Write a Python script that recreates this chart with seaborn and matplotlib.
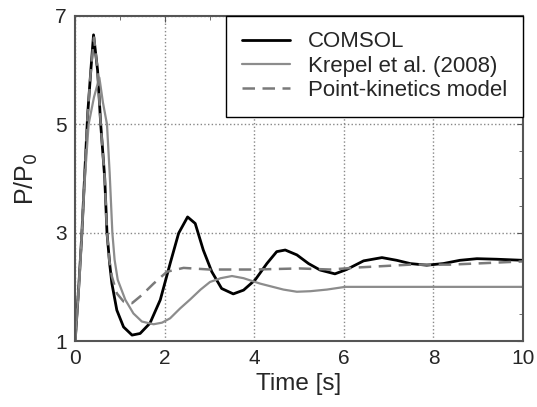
import numpy as np
import pandas as pd
import seaborn as sns
import matplotlib.pyplot as plt
from matplotlib.ticker import MultipleLocator

# values
t_comsol = [0, 0.08, 0.15, 0.22, 0.28, 0.35, 0.41, 0.50, 0.57, 0.66, 0.71, 0.77, 0.82,
            0.93, 1.08, 1.27, 1.45, 1.67, 1.90, 2.12, 2.31, 2.51, 2.68, 2.86, 3.05,
            3.27, 3.53, 3.76, 4.02, 4.28, 4.50, 4.69, 4.95, 5.21, 5.47, 5.80, 6.06,
            6.44, 6.85, 7.18, 7.48, 7.85, 8.22, 8.59, 8.97, 9.41, 10.0]
p_comsol = [1.0, 2.0, 3.0, 4.2, 5.2, 6.0, 6.65, 6.0, 5.0, 4.0, 3.0, 2.43, 2.06,
            1.57, 1.26, 1.11, 1.14, 1.33, 1.76, 2.43, 2.99, 3.29, 3.17, 2.68, 2.28,
            1.97, 1.87, 1.94, 2.13, 2.43, 2.65, 2.68, 2.59, 2.43, 2.31, 2.24, 2.32,
            2.48, 2.54, 2.49, 2.43, 2.40, 2.43, 2.49, 2.52, 2.51, 2.49]

t_krepel = [0, 0.10, 0.20, 0.30, 0.42, 0.54, 0.62, 0.71, 0.77, 0.83, 0.88, 0.95,
            1.12, 1.30, 1.49, 1.75, 1.94, 2.12, 2.34, 2.57, 2.80, 3.01, 3.25, 3.50,
            3.76, 4.13, 4.65, 4.95, 5.25, 5.62, 6.03, 7.0, 8.0, 9.0, 10.0]
p_krepel = [1.0, 2.2, 3.8, 5.0, 5.5, 5.86, 5.4, 5.0, 4.1, 3.0, 2.5, 2.13,
            1.76, 1.51, 1.36, 1.31, 1.34, 1.42, 1.60, 1.77, 1.95, 2.09, 2.16, 2.20,
            2.16, 2.06, 1.95, 1.91, 1.92, 1.95, 2.0, 2.0, 2.0, 2.0, 2.0]

t_pk = [0, 0.08, 0.15, 0.22, 0.28, 0.35, 0.42, 0.50, 0.57, 0.66, 0.71, 0.76, 0.82,
        0.93, 1.08, 1.27, 1.49, 1.75, 2.05, 2.42, 3.0, 4.0, 5.0, 5.69, 6.36,
        7.48, 8.37, 9.2, 10.0]
p_pk = [1.0, 2.0, 3.0, 4.2, 5.2, 6.0, 6.6, 6.0, 5.0, 4.0, 3.0, 2.5, 2.19,
        1.88, 1.73, 1.70, 1.85, 2.06, 2.28, 2.35, 2.32, 2.32, 2.34, 2.32, 2.36,
        2.41, 2.41, 2.44, 2.47]

series = ['COMSOL', 'Krepel et al. (2008)', 'Point-kinetics model']

df = pd.concat([
    pd.DataFrame({'t': t_comsol, 'p': p_comsol, 'model': series[0]}),
    pd.DataFrame({'t': t_krepel, 'p': p_krepel, 'model': series[1]}),
    pd.DataFrame({'t': t_pk, 'p': p_pk, 'model': series[2]}),
])

sns.set_style("white")
plt.rcParams.update({"font.family": ["Liberation Sans", "DejaVu Sans"],
                     "font.size": 15})

fig = plt.figure(figsize=(5.37, 4.07), dpi=100)
ax = fig.add_axes([0.14, 0.162, 0.834, 0.799])

styles = {series[0]: dict(color='black', lw=2.0, ls='-'),
          series[1]: dict(color='#8c8c8c', lw=1.6, ls='-'),
          series[2]: dict(color='#7a7a7a', lw=1.8, ls=(0, (5, 3)))}
for name in series:
    sub = df[df['model'] == name]
    sns.lineplot(data=sub, x='t', y='p', ax=ax, label=name, sort=False,
                 color=styles[name]['color'], linewidth=styles[name]['lw'],
                 linestyle=styles[name]['ls'])

ax.set_xlim(0, 10)
ax.set_ylim(1, 7)
ax.set_yticks([1, 3, 5, 7])
ax.xaxis.set_major_locator(MultipleLocator(2))
ax.xaxis.set_minor_locator(MultipleLocator(1))
ax.yaxis.set_minor_locator(MultipleLocator(0.5))
ax.tick_params(which='both', direction='in', top=True, right=True,
               labelsize=15, color='#555555', pad=6)
ax.tick_params(which='major', length=4)
ax.tick_params(which='minor', length=3)
ax.grid(True, which='major', linestyle=':', color='#888888', linewidth=1)
for s in ax.spines.values():
    s.set_color('#555555')
    s.set_linewidth(1.5)

ax.set_xlabel('Time [s]', fontsize=17.5, labelpad=3)
ax.set_ylabel('P/P$_0$', fontsize=18)
ax.yaxis.set_label_coords(-0.078, 0.5)

leg = ax.legend(loc='upper right', borderaxespad=0, fancybox=False,
                edgecolor='black', framealpha=1, fontsize=16,
                handlelength=2.2, borderpad=0.7, labelspacing=0.15,
                handletextpad=0.8)
leg.get_frame().set_linewidth(1.0)

plt.savefig('out.png', dpi=100)
plt.close()
